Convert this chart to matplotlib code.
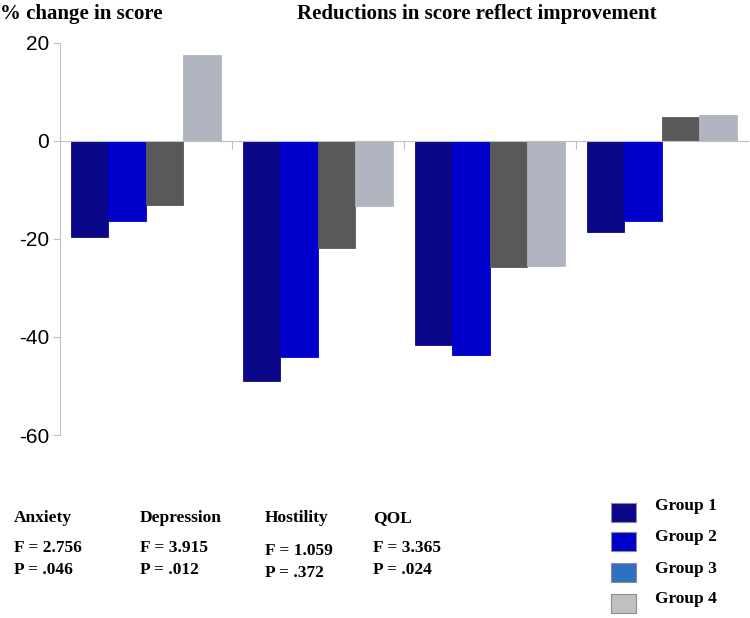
import numpy as np
import matplotlib
matplotlib.use('Agg')
import matplotlib.pyplot as plt
from matplotlib.patches import Rectangle
plt.rcParams['axes.unicode_minus'] = False

# 数据
categories = ['Anxiety', 'Depression', 'Hostility', 'QOL']
group1 = [-19.7, -49.0, -41.6, -18.5]
group2 = [-16.3, -44.1, -43.6, -16.4]
group3 = [-13.0, -21.8, -25.7, 4.8]
group4 = [17.5, -13.3, -25.5, 5.3]
f_values = ['2.756', '3.915', '1.059', '3.365']
p_values = ['.046', '.012', '.372', '.024']
groups = ['Group 1', 'Group 2', 'Group 3', 'Group 4']

bar_colors = ['#0A0788', '#0000CC', '#595959', '#B0B4BE']
legend_colors = ['#0A0788', '#0000CC', '#3070C0', '#C0C0C0']

serif = ['Liberation Serif', 'DejaVu Serif']
narrow = ['Liberation Sans Narrow', 'Liberation Sans', 'DejaVu Sans']

fig = plt.figure(figsize=(7.5, 6.18), dpi=100)
ax = fig.add_axes([0.08, 0.2961, 0.917, 0.6348])

width = 0.218
gap = 0.064
x = np.arange(len(categories))
for j, vals in enumerate([group1, group2, group3, group4]):
    ax.bar(x + gap + j * width, vals, width=width, align='edge',
           color=bar_colors[j], edgecolor=bar_colors[j], linewidth=0.6, zorder=2)

ax.set_xlim(0, len(categories))
ax.set_ylim(-60, 20)
ax.spines['bottom'].set_position(('data', 0))
ax.spines['bottom'].set_color('#BFBFBF')
ax.set_xticks([1, 2, 3])
ax.set_xticklabels([])
ax.tick_params(axis='x', length=6, color='#BFBFBF', direction='out')
ax.set_yticks([20, 0, -20, -40, -60])
ax.tick_params(axis='y', length=5, color='#BFBFBF', labelsize=15, pad=3)
for lab in ax.get_yticklabels():
    lab.set_family(narrow)
for s in ['top', 'right']:
    ax.spines[s].set_visible(False)
ax.spines['left'].set_color('#BFBFBF')

# 标题
fig.text(0.0, 0.977, '% change in score', fontsize=15, fontweight='bold',
         family=serif, va='center', ha='left')
fig.text(0.636, 0.977, 'Reductions in score reflect improvement', fontsize=15,
         fontweight='bold', family=serif, va='center', ha='center')

# 统计量
xs = [14, 140, 265, 373]
for i, c in enumerate(categories):
    dy = 3 if c == 'Hostility' else 0
    fig.text(xs[i] / 750, 1 - 518 / 618, c, fontsize=12.5, fontweight='bold',
             family=serif, va='center')
    fig.text(xs[i] / 750, 1 - (548 + dy) / 618, 'F = ' + f_values[i], fontsize=12.5,
             fontweight='bold', family=serif, va='center')
    fig.text(xs[i] / 750, 1 - (570 + dy) / 618, 'P = ' + p_values[i], fontsize=12.5,
             fontweight='bold', family=serif, va='center')

# 图例
box_y = [503, 532, 563, 594]
text_y = [506, 537, 569, 599]
for i, g in enumerate(groups):
    fig.patches.append(Rectangle((611 / 750, 1 - (box_y[i] + 19) / 618), 25 / 750, 19 / 618,
                                 transform=fig.transFigure, facecolor=legend_colors[i],
                                 edgecolor='#8C8C8C', linewidth=0.8))
    fig.text(655 / 750, 1 - text_y[i] / 618, g, fontsize=12.5, fontweight='bold',
             family=serif, va='center')

fig.savefig('out.png', dpi=100)
